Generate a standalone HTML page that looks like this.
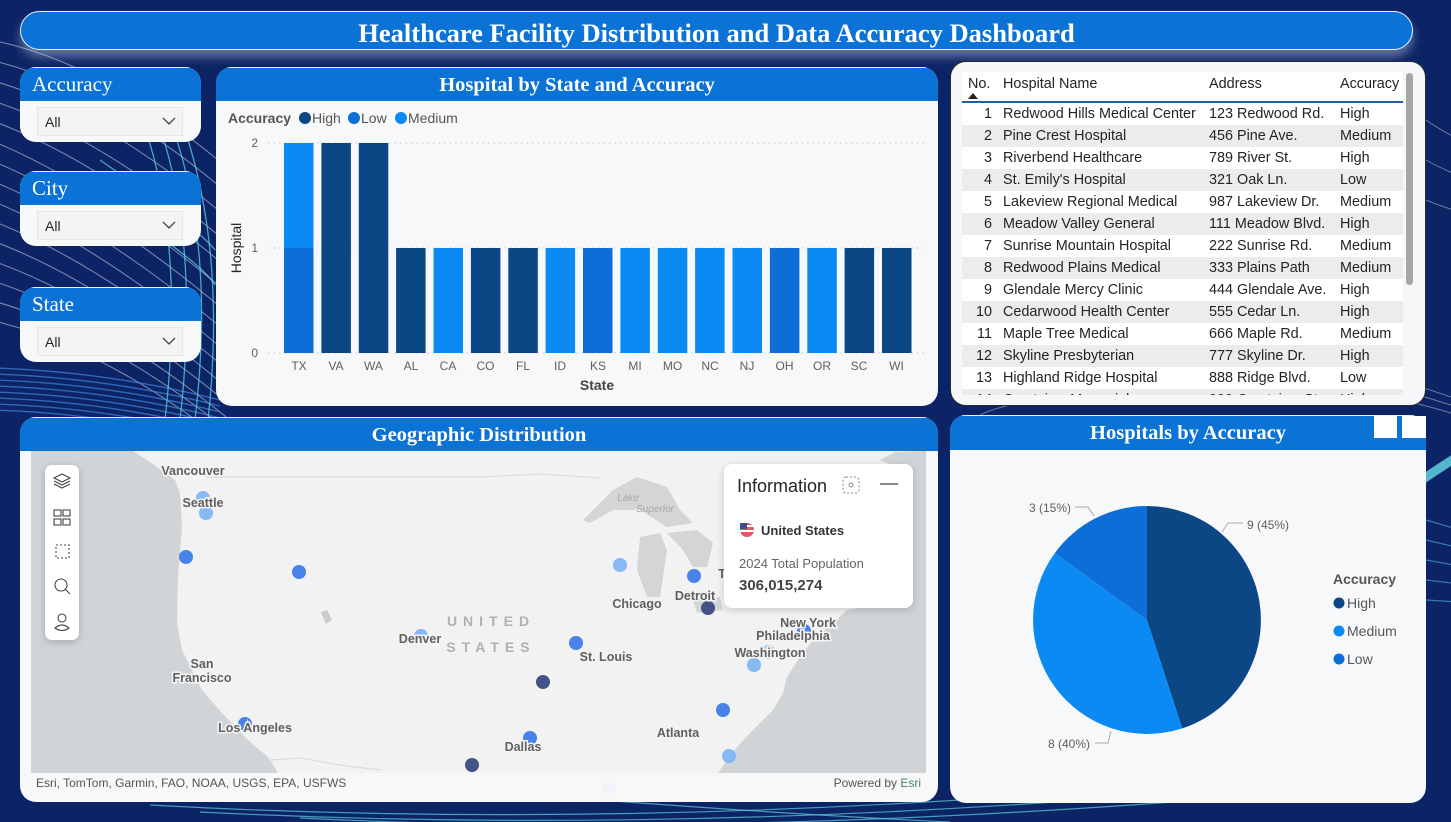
<!DOCTYPE html>
<html><head><meta charset="utf-8">
<style>
*{margin:0;padding:0;box-sizing:border-box}
body{width:1451px;height:822px;overflow:hidden;background:#0c2465;font-family:"Liberation Sans",sans-serif;position:relative}
.abs{position:absolute}
.hdr{position:absolute;left:20px;top:11px;width:1393px;height:39px;background:#0b72d6;border:1.5px solid #e8f0fb;border-radius:20px;box-shadow:0 7px 10px rgba(200,210,230,0.45);color:#fff;font-family:"Liberation Serif",serif;font-weight:bold;font-size:26.5px;text-align:center;line-height:43px}
.panel{position:absolute;background:#f6f8fa;border-radius:16px;overflow:hidden}
.ph{position:absolute;left:0;top:0;right:0;height:34px;background:#0b72d6;color:#fff;font-family:"Liberation Serif",serif;font-weight:bold;font-size:20.5px;text-align:center;line-height:34px;border-top:1.5px solid #e8f0fb}
.slc .ph{text-align:left;font-weight:normal;font-size:21px;padding-left:12px;line-height:32px}
.dd{position:absolute;left:17px;top:40px;width:146px;height:29px;background:#f3f4f6;border:1px solid #e4e6ea;font-size:14px;color:#252423;padding-left:7px;line-height:28px}
.dd svg{position:absolute;right:6px;top:9px}
.tbl{position:absolute;left:962px;top:72px;width:441px;height:323px;overflow:hidden;background:#fff}
.row{position:absolute;left:0;width:441px;height:22px;font-size:14.4px;color:#252423;line-height:22px;white-space:nowrap}
.row span{position:absolute}
.row .n{left:0;width:30px;text-align:right}
.row .a{left:41px}
.row .b{left:247px}
.row .c{left:378px}
.alt{background:#ececec}
.ml{font-family:"Liberation Sans",sans-serif;font-size:12.5px;font-weight:bold;fill:#606060;paint-order:stroke;stroke:#f4f4f4;stroke-width:3px}
</style></head><body>

<!-- background decoration -->
<svg class="abs" style="left:0;top:0" width="1451" height="822" viewBox="0 0 1451 822">
<g fill="none" stroke="#ffffff" stroke-opacity="0.45" stroke-width="1.1">
<path d="M-10 40 Q100 60 230 170"/>
<path d="M-10 60 Q100 85 230 195"/>
<path d="M-10 80 Q100 110 230 220"/>
<path d="M-10 100 Q100 135 230 245"/>
<path d="M-10 120 Q100 160 230 270"/>
<path d="M-10 140 Q100 185 230 295"/>
<path d="M-10 160 Q100 205 230 315"/>
<path d="M-10 180 Q100 225 230 335"/>
<path d="M-10 200 Q100 245 230 355"/>
<path d="M-10 220 Q100 262 230 372"/>
<path d="M-10 240 Q100 280 230 390"/>
<path d="M-10 260 Q100 298 230 405"/>
<path d="M-10 280 Q100 315 230 420"/>
<path d="M-10 300 Q100 330 230 432"/>
<path d="M-10 320 Q100 345 230 445"/>
</g>
<g fill="none" stroke="#3b7fd6" stroke-opacity="0.75" stroke-width="1.4">
<path d="M-5 368 Q110 372 220 400"/>
<path d="M-5 374 Q110 378 220 406"/>
<path d="M-5 380 Q110 384 220 412"/>
<path d="M-5 386 Q110 390 220 418"/>
<path d="M-5 392 Q110 396 220 424"/>
<path d="M-5 398 Q110 402 220 430"/>
<path d="M-5 404 Q110 408 220 436"/>
<path d="M-5 410 Q110 414 220 442"/>
</g>
<g fill="none" stroke="#5fd0e0" stroke-opacity="0.75" stroke-width="1.3">
<path d="M120 70 Q190 200 165 420"/>
<path d="M135 70 Q205 200 180 420"/>
<path d="M150 75 Q220 210 195 420"/>
<path d="M165 80 Q230 220 208 420"/>
<path d="M100 160 Q200 230 215 250"/>
<path d="M90 190 Q200 260 215 285"/>
</g>
<g fill="none" stroke="#5fd0e0" stroke-opacity="0.7" stroke-width="1.2">
<path d="M150 805 Q600 830 1100 790"/>
<path d="M200 812 Q650 835 1150 795"/>
<path d="M300 818 Q700 838 1200 800"/>
<path d="M600 800 Q800 815 950 822"/>
</g>
<g fill="none" stroke="#ffffff" stroke-opacity="0.4" stroke-width="1">
<path d="M1400 380 Q1430 390 1460 400"/>
<path d="M1400 390 Q1430 398 1460 408"/>
<path d="M1400 400 Q1430 406 1460 416"/>
<path d="M1426 120 Q1440 130 1460 140"/>
<path d="M1426 160 Q1440 168 1460 176"/>
<path d="M1426 200 Q1440 206 1460 212"/>
<path d="M980 415 Q1000 405 1040 400"/>
</g>
<path d="M1380 510 Q1420 480 1460 455" fill="none" stroke="#62cfe0" stroke-width="9" stroke-opacity="0.85"/>
<g fill="none" stroke="#4fb8dc" stroke-opacity="0.6" stroke-width="1.2">
<path d="M1426 520 L1460 530"/><path d="M1426 540 L1460 548"/><path d="M1426 560 L1460 566"/><path d="M1426 580 L1460 584"/><path d="M1426 600 L1460 602"/>
</g>
</svg>

<div class="hdr">Healthcare Facility Distribution and Data Accuracy Dashboard</div>

<!-- slicers -->
<div class="panel slc" style="left:20px;top:67px;width:181px;height:75px"><div class="ph">Accuracy</div><div class="dd">All<svg width="14" height="9"><path d="M1 1 L7 7 L13 1" fill="none" stroke="#444" stroke-width="1.3"/></svg></div></div>
<div class="panel slc" style="left:20px;top:171px;width:181px;height:75px"><div class="ph">City</div><div class="dd">All<svg width="14" height="9"><path d="M1 1 L7 7 L13 1" fill="none" stroke="#444" stroke-width="1.3"/></svg></div></div>
<div class="panel slc" style="left:20px;top:287px;width:181px;height:75px"><div class="ph">State</div><div class="dd">All<svg width="14" height="9"><path d="M1 1 L7 7 L13 1" fill="none" stroke="#444" stroke-width="1.3"/></svg></div></div>

<!-- bar chart -->
<div class="panel" style="left:216px;top:67px;width:722px;height:339px"><div class="ph">Hospital by State and Accuracy</div></div>
<svg class="abs" style="left:0;top:0" width="1451" height="822" viewBox="0 0 1451 822" font-family="Liberation Sans, sans-serif">
<text x="228" y="123" font-size="14" font-weight="bold" fill="#555">Accuracy</text>
<circle cx="305" cy="118" r="6" fill="#0a4784"/><text x="312" y="123" font-size="14" fill="#555">High</text>
<circle cx="354" cy="118" r="6" fill="#0c6ed6"/><text x="361" y="123" font-size="14" fill="#555">Low</text>
<circle cx="401" cy="118" r="6" fill="#0a8af2"/><text x="408" y="123" font-size="14" fill="#555">Medium</text>
<g stroke="#c8c8c8" stroke-dasharray="1.5,4" stroke-width="1"><line x1="268" y1="143" x2="926" y2="143"/><line x1="268" y1="248" x2="926" y2="248"/><line x1="268" y1="353" x2="926" y2="353"/></g>
<g font-size="12" fill="#605e5c" text-anchor="end"><text x="258" y="147">2</text><text x="258" y="252">1</text><text x="258" y="357">0</text></g>
<text transform="translate(241,248) rotate(-90)" font-size="14" fill="#252423" text-anchor="middle">Hospital</text>
<g>
<rect x="284" y="143" width="29.5" height="105" fill="#0a8af2"/><rect x="284" y="248" width="29.5" height="105" fill="#0c6ed6"/>
<rect x="321.4" y="143" width="29.5" height="210" fill="#0a4784"/>
<rect x="358.8" y="143" width="29.5" height="210" fill="#0a4784"/>
<rect x="396.1" y="248" width="29.5" height="105" fill="#0a4784"/>
<rect x="433.5" y="248" width="29.5" height="105" fill="#0a8af2"/>
<rect x="470.9" y="248" width="29.5" height="105" fill="#0a4784"/>
<rect x="508.3" y="248" width="29.5" height="105" fill="#0a4784"/>
<rect x="545.6" y="248" width="29.5" height="105" fill="#0a8af2"/>
<rect x="583" y="248" width="29.5" height="105" fill="#0c6ed6"/>
<rect x="620.4" y="248" width="29.5" height="105" fill="#0a8af2"/>
<rect x="657.8" y="248" width="29.5" height="105" fill="#0a8af2"/>
<rect x="695.1" y="248" width="29.5" height="105" fill="#0a8af2"/>
<rect x="732.5" y="248" width="29.5" height="105" fill="#0a8af2"/>
<rect x="769.9" y="248" width="29.5" height="105" fill="#0c6ed6"/>
<rect x="807.3" y="248" width="29.5" height="105" fill="#0a8af2"/>
<rect x="844.6" y="248" width="29.5" height="105" fill="#0a4784"/>
<rect x="882" y="248" width="29.5" height="105" fill="#0a4784"/>
</g>
<g font-size="12" fill="#605e5c" text-anchor="middle">
<text x="299" y="370">TX</text><text x="336" y="370">VA</text><text x="373.5" y="370">WA</text><text x="411" y="370">AL</text><text x="448" y="370">CA</text><text x="485.5" y="370">CO</text><text x="523" y="370">FL</text><text x="560" y="370">ID</text><text x="598" y="370">KS</text><text x="635" y="370">MI</text><text x="672.5" y="370">MO</text><text x="710" y="370">NC</text><text x="747" y="370">NJ</text><text x="784.5" y="370">OH</text><text x="822" y="370">OR</text><text x="859" y="370">SC</text><text x="896.5" y="370">WI</text>
</g>
<text x="597" y="390" font-size="14" fill="#252423" text-anchor="middle" font-weight="bold" opacity="0.85">State</text>
</svg>

<!-- table -->
<div class="panel" style="left:950px;top:61px;width:476px;height:345px;border:1px solid #2a2a2a;border-radius:16px;background:#f6f7f9"></div>
<div class="tbl">
<div class="row" style="top:0;height:31px;line-height:24px;border-bottom:2px solid #1f5fa6;background:#fff"><span style="left:6px">No.</span><span class="a">Hospital Name</span><span class="b">Address</span><span class="c">Accuracy</span><svg style="position:absolute;left:6px;top:21px" width="10" height="6"><path d="M0 6 L5 0 L10 6Z" fill="#222"/></svg></div>
<div class="row" style="top:31px"><span class="n">1</span><span class="a">Redwood Hills Medical Center</span><span class="b">123 Redwood Rd.</span><span class="c">High</span></div>
<div class="row alt" style="top:53px"><span class="n">2</span><span class="a">Pine Crest Hospital</span><span class="b">456 Pine Ave.</span><span class="c">Medium</span></div>
<div class="row" style="top:75px"><span class="n">3</span><span class="a">Riverbend Healthcare</span><span class="b">789 River St.</span><span class="c">High</span></div>
<div class="row alt" style="top:97px"><span class="n">4</span><span class="a">St. Emily's Hospital</span><span class="b">321 Oak Ln.</span><span class="c">Low</span></div>
<div class="row" style="top:119px"><span class="n">5</span><span class="a">Lakeview Regional Medical</span><span class="b">987 Lakeview Dr.</span><span class="c">Medium</span></div>
<div class="row alt" style="top:141px"><span class="n">6</span><span class="a">Meadow Valley General</span><span class="b">111 Meadow Blvd.</span><span class="c">High</span></div>
<div class="row" style="top:163px"><span class="n">7</span><span class="a">Sunrise Mountain Hospital</span><span class="b">222 Sunrise Rd.</span><span class="c">Medium</span></div>
<div class="row alt" style="top:185px"><span class="n">8</span><span class="a">Redwood Plains Medical</span><span class="b">333 Plains Path</span><span class="c">Medium</span></div>
<div class="row" style="top:207px"><span class="n">9</span><span class="a">Glendale Mercy Clinic</span><span class="b">444 Glendale Ave.</span><span class="c">High</span></div>
<div class="row alt" style="top:229px"><span class="n">10</span><span class="a">Cedarwood Health Center</span><span class="b">555 Cedar Ln.</span><span class="c">High</span></div>
<div class="row" style="top:251px"><span class="n">11</span><span class="a">Maple Tree Medical</span><span class="b">666 Maple Rd.</span><span class="c">Medium</span></div>
<div class="row alt" style="top:273px"><span class="n">12</span><span class="a">Skyline Presbyterian</span><span class="b">777 Skyline Dr.</span><span class="c">High</span></div>
<div class="row" style="top:295px"><span class="n">13</span><span class="a">Highland Ridge Hospital</span><span class="b">888 Ridge Blvd.</span><span class="c">Low</span></div>
<div class="row alt" style="top:317px"><span class="n">14</span><span class="a">Crestview Memorial</span><span class="b">999 Crestview St.</span><span class="c">High</span></div>
</div>
<div class="abs" style="left:1406px;top:73px;width:7px;height:212px;background:#a6a6a6;border-radius:4px"></div>

<!-- map -->
<div class="panel" style="left:20px;top:417px;width:918px;height:385px"><div class="ph">Geographic Distribution</div></div>
<svg class="abs" style="left:31px;top:451px" width="895" height="342" viewBox="31 451 895 342" font-family="Liberation Sans, sans-serif">
<rect x="31" y="451" width="895" height="342" fill="#f2f2f2"/>
<path d="M31 451 L133 451 L150 462 L175 480 L180 493 L182 527 L178 577 L177 623 L182 650 L202 690 L222 713 L248 740 L268 757 L278 773 L31 773Z" fill="#d1d4d6"/>
<path d="M926 451 L895 452 L880 460 L905 470 L913 520 L913 600 L847 610 L833 623 L813 640 L800 657 L787 677 L783 693 L773 710 L753 730 L737 747 L727 760 L718 773 L926 773Z" fill="#d1d4d6"/>
<path d="M583 520 L613 490 L637 477 L667 487 L680 510 L693 523 L667 527 L640 510 L613 510 L590 523Z" fill="#d3d5d7"/>
<path d="M640 537 L660 533 L667 550 L660 597 L647 597 L637 570Z" fill="#d3d5d7"/>
<path d="M667 533 L697 530 L713 543 L707 567 L693 567 L683 550Z" fill="#d3d5d7"/>
<path d="M693 600 L720 597 L723 610 L697 613Z" fill="#d3d5d7"/>
<path d="M321 612 L327 610 L332 620 L326 624Z" fill="#c9cbcd"/>
<path d="M205 477 L480 477 L540 474 L600 478" fill="none" stroke="#dcdcdc" stroke-width="1.2"/>
<path d="M270 760 L300 758 L340 765 L380 770" fill="none" stroke="#dcdcdc" stroke-width="1.2"/>
<text x="193" y="475" class="ml" text-anchor="middle">Vancouver</text>
<text x="628" y="501" font-size="10" font-style="italic" fill="#a8a8a8" text-anchor="middle">Lake</text>
<text x="655" y="512" font-size="10" font-style="italic" fill="#a8a8a8" text-anchor="middle">Superior</text>
<g fill-opacity="0.95">
<circle cx="203" cy="498" r="7" fill="#82b4f6"/>
<circle cx="206" cy="513" r="7" fill="#82b4f6"/>
<circle cx="186" cy="557" r="7" fill="#3f7be8"/>
<circle cx="299" cy="572" r="7" fill="#3f7be8"/>
<circle cx="421" cy="636" r="7" fill="#82b4f6"/>
<circle cx="245" cy="724" r="7" fill="#3f7be8"/>
<circle cx="472" cy="765" r="7" fill="#3b4b82"/>
<circle cx="620" cy="565" r="7" fill="#82b4f6"/>
<circle cx="694" cy="576" r="7" fill="#3f7be8"/>
<circle cx="708" cy="608" r="7" fill="#3b4b82"/>
<circle cx="576" cy="643" r="7" fill="#3f7be8"/>
<circle cx="543" cy="682" r="7" fill="#3b4b82"/>
<circle cx="530" cy="738" r="7" fill="#3f7be8"/>
<circle cx="804" cy="631" r="7" fill="#3f7be8"/>
<circle cx="768" cy="652" r="7" fill="#a5c9f8"/>
<circle cx="754" cy="665" r="7" fill="#82b4f6"/>
<circle cx="723" cy="710" r="7" fill="#3f7be8"/>
<circle cx="729" cy="756" r="7" fill="#82b4f6"/>
<circle cx="609" cy="789" r="7" fill="#82b4f6"/>
</g>
<text x="203" y="507" class="ml" text-anchor="middle">Seattle</text>
<text x="202" y="668" class="ml" text-anchor="middle">San</text>
<text x="202" y="682" class="ml" text-anchor="middle">Francisco</text>
<text x="420" y="643" class="ml" text-anchor="middle">Denver</text>
<text x="491" y="626" font-size="14" font-weight="bold" fill="#b0b0b0" letter-spacing="6" text-anchor="middle">UNITED</text>
<text x="491" y="652" font-size="14" font-weight="bold" fill="#b0b0b0" letter-spacing="6" text-anchor="middle">STATES</text>
<text x="637" y="608" class="ml" text-anchor="middle">Chicago</text>
<text x="695" y="600" class="ml" text-anchor="middle">Detroit</text>
<text x="606" y="661" class="ml" text-anchor="middle">St. Louis</text>
<text x="255" y="732" class="ml" text-anchor="middle">Los Angeles</text>
<text x="523" y="751" class="ml" text-anchor="middle">Dallas</text>
<text x="678" y="737" class="ml" text-anchor="middle">Atlanta</text>
<text x="808" y="627" class="ml" text-anchor="middle">New York</text>
<text x="793" y="640" class="ml" text-anchor="middle">Philadelphia</text>
<text x="770" y="657" class="ml" text-anchor="middle">Washington</text>
<text x="722" y="578" class="ml" text-anchor="middle">T</text>
<rect x="31" y="773" width="895" height="20" fill="#f8f8f8" fill-opacity="0.92"/>
<text x="36" y="787" font-size="12" fill="#555">Esri, TomTom, Garmin, FAO, NOAA, USGS, EPA, USFWS</text>
<text x="921" y="787" font-size="12" fill="#555" text-anchor="end">Powered by <tspan fill="#3d8b63">Esri</tspan></text>
</svg>
<!-- toolbar -->
<div class="abs" style="left:45px;top:465px;width:34px;height:175px;background:#fff;border-radius:7px;box-shadow:0 2px 8px rgba(0,0,0,0.2)"></div>
<svg class="abs" style="left:45px;top:465px" width="34" height="175" viewBox="0 0 34 175" fill="none" stroke="#444" stroke-width="1.1">
<path d="M17 9 L25 13 L17 17 L9 13Z"/><path d="M9 16 L17 20 L25 16"/><path d="M9 19 L17 23 L25 19"/>
<rect x="9" y="45" width="7" height="6"/><rect x="18" y="45" width="7" height="6"/><rect x="9" y="54" width="7" height="6"/><rect x="18" y="54" width="7" height="6"/>
<rect x="11" y="80" width="13" height="13" stroke-dasharray="2,2"/>
<circle cx="16" cy="120" r="6"/><path d="M20 124 L25 129"/>
<circle cx="17" cy="153" r="4"/><path d="M10 163 Q17 157 24 163 Q17 168 10 163Z"/>
</svg>
<!-- info popup -->
<div class="abs" style="left:724px;top:464px;width:189px;height:144px;background:#fff;border-radius:8px;box-shadow:0 2px 8px rgba(0,0,0,0.18)"></div>
<svg class="abs" style="left:724px;top:464px" width="189" height="144" viewBox="724 464 189 144" font-family="Liberation Sans, sans-serif">
<text x="737" y="492" font-size="18" fill="#252423">Information</text>
<rect x="843" y="477" width="16" height="16" rx="3" fill="none" stroke="#888" stroke-dasharray="2,2"/>
<circle cx="851" cy="485" r="2" fill="none" stroke="#888"/>
<line x1="880" y1="484" x2="898" y2="484" stroke="#444" stroke-width="1.2"/>
<circle cx="747" cy="530" r="7" fill="#e05a5a"/>
<rect x="740" y="525" width="14" height="2" fill="#fff"/><rect x="740" y="530" width="14" height="2" fill="#fff"/>
<rect x="740" y="523" width="7" height="6" fill="#3c4f8c"/>
<text x="761" y="535" font-size="13" font-weight="bold" fill="#333">United States</text>
<text x="739" y="568" font-size="13" fill="#666">2024 Total Population</text>
<text x="739" y="590" font-size="15" font-weight="bold" fill="#444">306,015,274</text>
</svg>

<!-- pie -->
<div class="panel" style="left:950px;top:415px;width:476px;height:388px"><div class="ph" style="height:35px;line-height:35px;padding-right:0">Hospitals by Accuracy</div></div>
<div class="abs" style="left:1374px;top:416px;width:23px;height:22px;background:#fff"></div>
<div class="abs" style="left:1402px;top:416px;width:24px;height:22px;background:#fff"></div>
<svg class="abs" style="left:0;top:0" width="1451" height="822" viewBox="0 0 1451 822" font-family="Liberation Sans, sans-serif">
<path d="M1147 620 L1147 506 A114 114 0 0 1 1182.2 728.4Z" fill="#0a4784"/>
<path d="M1147 620 L1182.2 728.4 A114 114 0 0 1 1054.8 553Z" fill="#0a8af2"/>
<path d="M1147 620 L1054.8 553 A114 114 0 0 1 1147 506Z" fill="#0c6ed6"/>
<g fill="none" stroke="#aaa" stroke-width="1">
<path d="M1222 532 L1228 523 L1243 523"/>
<path d="M1075 507 L1088 507 L1094 516"/>
<path d="M1095 743 L1108 743 L1111 731"/>
</g>
<g font-size="12" fill="#605e5c">
<text x="1247" y="529">9 (45%)</text>
<text x="1071" y="512" text-anchor="end">3 (15%)</text>
<text x="1090" y="748" text-anchor="end">8 (40%)</text>
</g>
<text x="1333" y="584" font-size="14" font-weight="bold" fill="#555">Accuracy</text>
<circle cx="1339" cy="603" r="5.5" fill="#0a4784"/><text x="1347" y="608" font-size="14" fill="#555">High</text>
<circle cx="1339" cy="631" r="5.5" fill="#0a8af2"/><text x="1347" y="636" font-size="14" fill="#555">Medium</text>
<circle cx="1339" cy="659" r="5.5" fill="#0c6ed6"/><text x="1347" y="664" font-size="14" fill="#555">Low</text>
</svg>
</body></html>
